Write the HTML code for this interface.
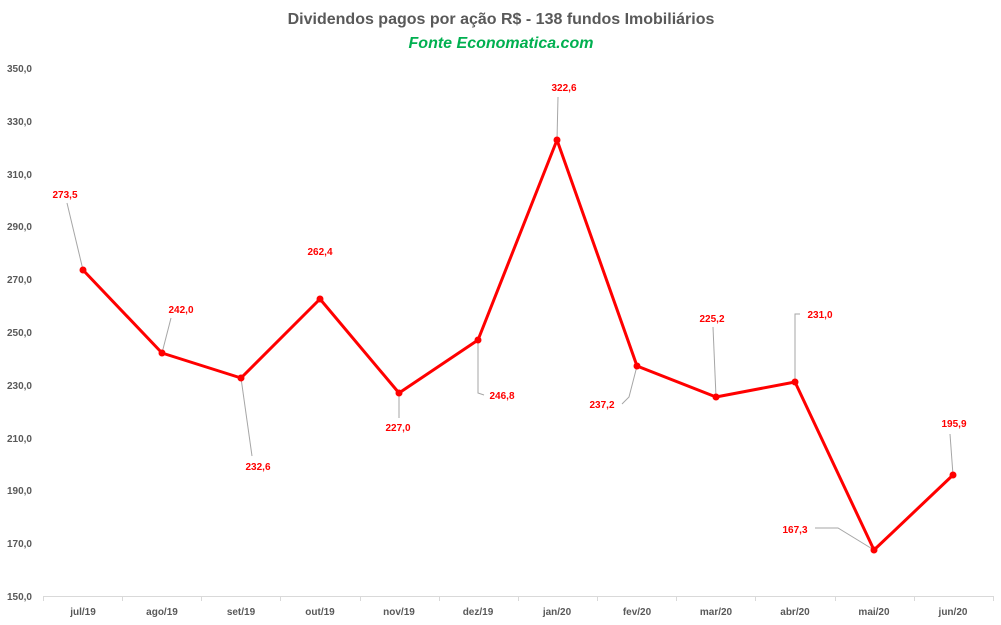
<!DOCTYPE html>
<html><head><meta charset="utf-8"><style>
body{margin:0;background:#fff}
svg{display:block;font-family:"Liberation Sans",sans-serif}
</style></head><body>
<svg width="1001" height="625" viewBox="0 0 1001 625">
<rect width="1001" height="625" fill="#fff"/>
<text x="501" y="24" text-anchor="middle" font-size="16" font-weight="bold" fill="#595959">Dividendos pagos por ação R$ - 138 fundos Imobiliários</text>
<text x="501" y="48" text-anchor="middle" font-size="16" font-weight="bold" font-style="italic" fill="#00b050">Fonte Economatica.com</text>
<g font-size="10" font-weight="bold" fill="#595959" text-anchor="end">
<text x="32" y="72">350,0</text><text x="32" y="125">330,0</text><text x="32" y="178">310,0</text><text x="32" y="230">290,0</text><text x="32" y="283">270,0</text><text x="32" y="336">250,0</text><text x="32" y="389">230,0</text><text x="32" y="442">210,0</text><text x="32" y="494">190,0</text><text x="32" y="547">170,0</text><text x="32" y="600">150,0</text>
</g>
<g stroke="#d9d9d9" stroke-width="1">
<line x1="43" y1="596.5" x2="993" y2="596.5"/>
<path d="M43.5 596v5M122.5 596v5M201.5 596v5M280.5 596v5M360.5 596v5M439.5 596v5M518.5 596v5M597.5 596v5M676.5 596v5M755.5 596v5M835.5 596v5M914.5 596v5M993.5 596v5"/>
</g>
<g font-size="10" font-weight="bold" fill="#595959" text-anchor="middle">
<text x="83" y="615">jul/19</text><text x="162" y="615">ago/19</text><text x="241" y="615">set/19</text><text x="320" y="615">out/19</text><text x="399" y="615">nov/19</text><text x="478" y="615">dez/19</text><text x="557" y="615">jan/20</text><text x="637" y="615">fev/20</text><text x="716" y="615">mar/20</text><text x="795" y="615">abr/20</text><text x="874" y="615">mai/20</text><text x="953" y="615">jun/20</text>
</g>
<g stroke="#a6a6a6" stroke-width="1" fill="none">
<path d="M67 203L83 270"/>
<path d="M171 318L162 353"/>
<path d="M252 456L241 378"/>
<path d="M399 418L399 393"/>
<path d="M478 340L478 393L484 395"/>
<path d="M558 97L557 140"/>
<path d="M622 404L629 397L637 366"/>
<path d="M713 327L716 397"/>
<path d="M800 314L795 314L795 382"/>
<path d="M815 528L838 528L874 550"/>
<path d="M950 434L953 475"/>
</g>
<polyline fill="none" stroke="#ff0000" stroke-width="3" stroke-linejoin="round" points="83,270 162,353 241,378 320,299 399,393 478,340 557,140 637,366 716,397 795,382 874,550 953,475"/>
<g fill="#ff0000">
<circle cx="83" cy="270" r="3.5"/><circle cx="162" cy="353" r="3.5"/><circle cx="241" cy="378" r="3.5"/><circle cx="320" cy="299" r="3.5"/><circle cx="399" cy="393" r="3.5"/><circle cx="478" cy="340" r="3.5"/><circle cx="557" cy="140" r="3.5"/><circle cx="637" cy="366" r="3.5"/><circle cx="716" cy="397" r="3.5"/><circle cx="795" cy="382" r="3.5"/><circle cx="874" cy="550" r="3.5"/><circle cx="953" cy="475" r="3.5"/>
</g>
<g font-size="10" font-weight="bold" fill="#ff0000" text-anchor="middle">
<text x="65" y="198">273,5</text><text x="181" y="313">242,0</text><text x="258" y="470">232,6</text><text x="320" y="255">262,4</text><text x="398" y="431">227,0</text><text x="502" y="399">246,8</text><text x="564" y="91">322,6</text><text x="602" y="408">237,2</text><text x="712" y="322">225,2</text><text x="820" y="318">231,0</text><text x="795" y="533">167,3</text><text x="954" y="427">195,9</text>
</g>
</svg>
</body></html>
